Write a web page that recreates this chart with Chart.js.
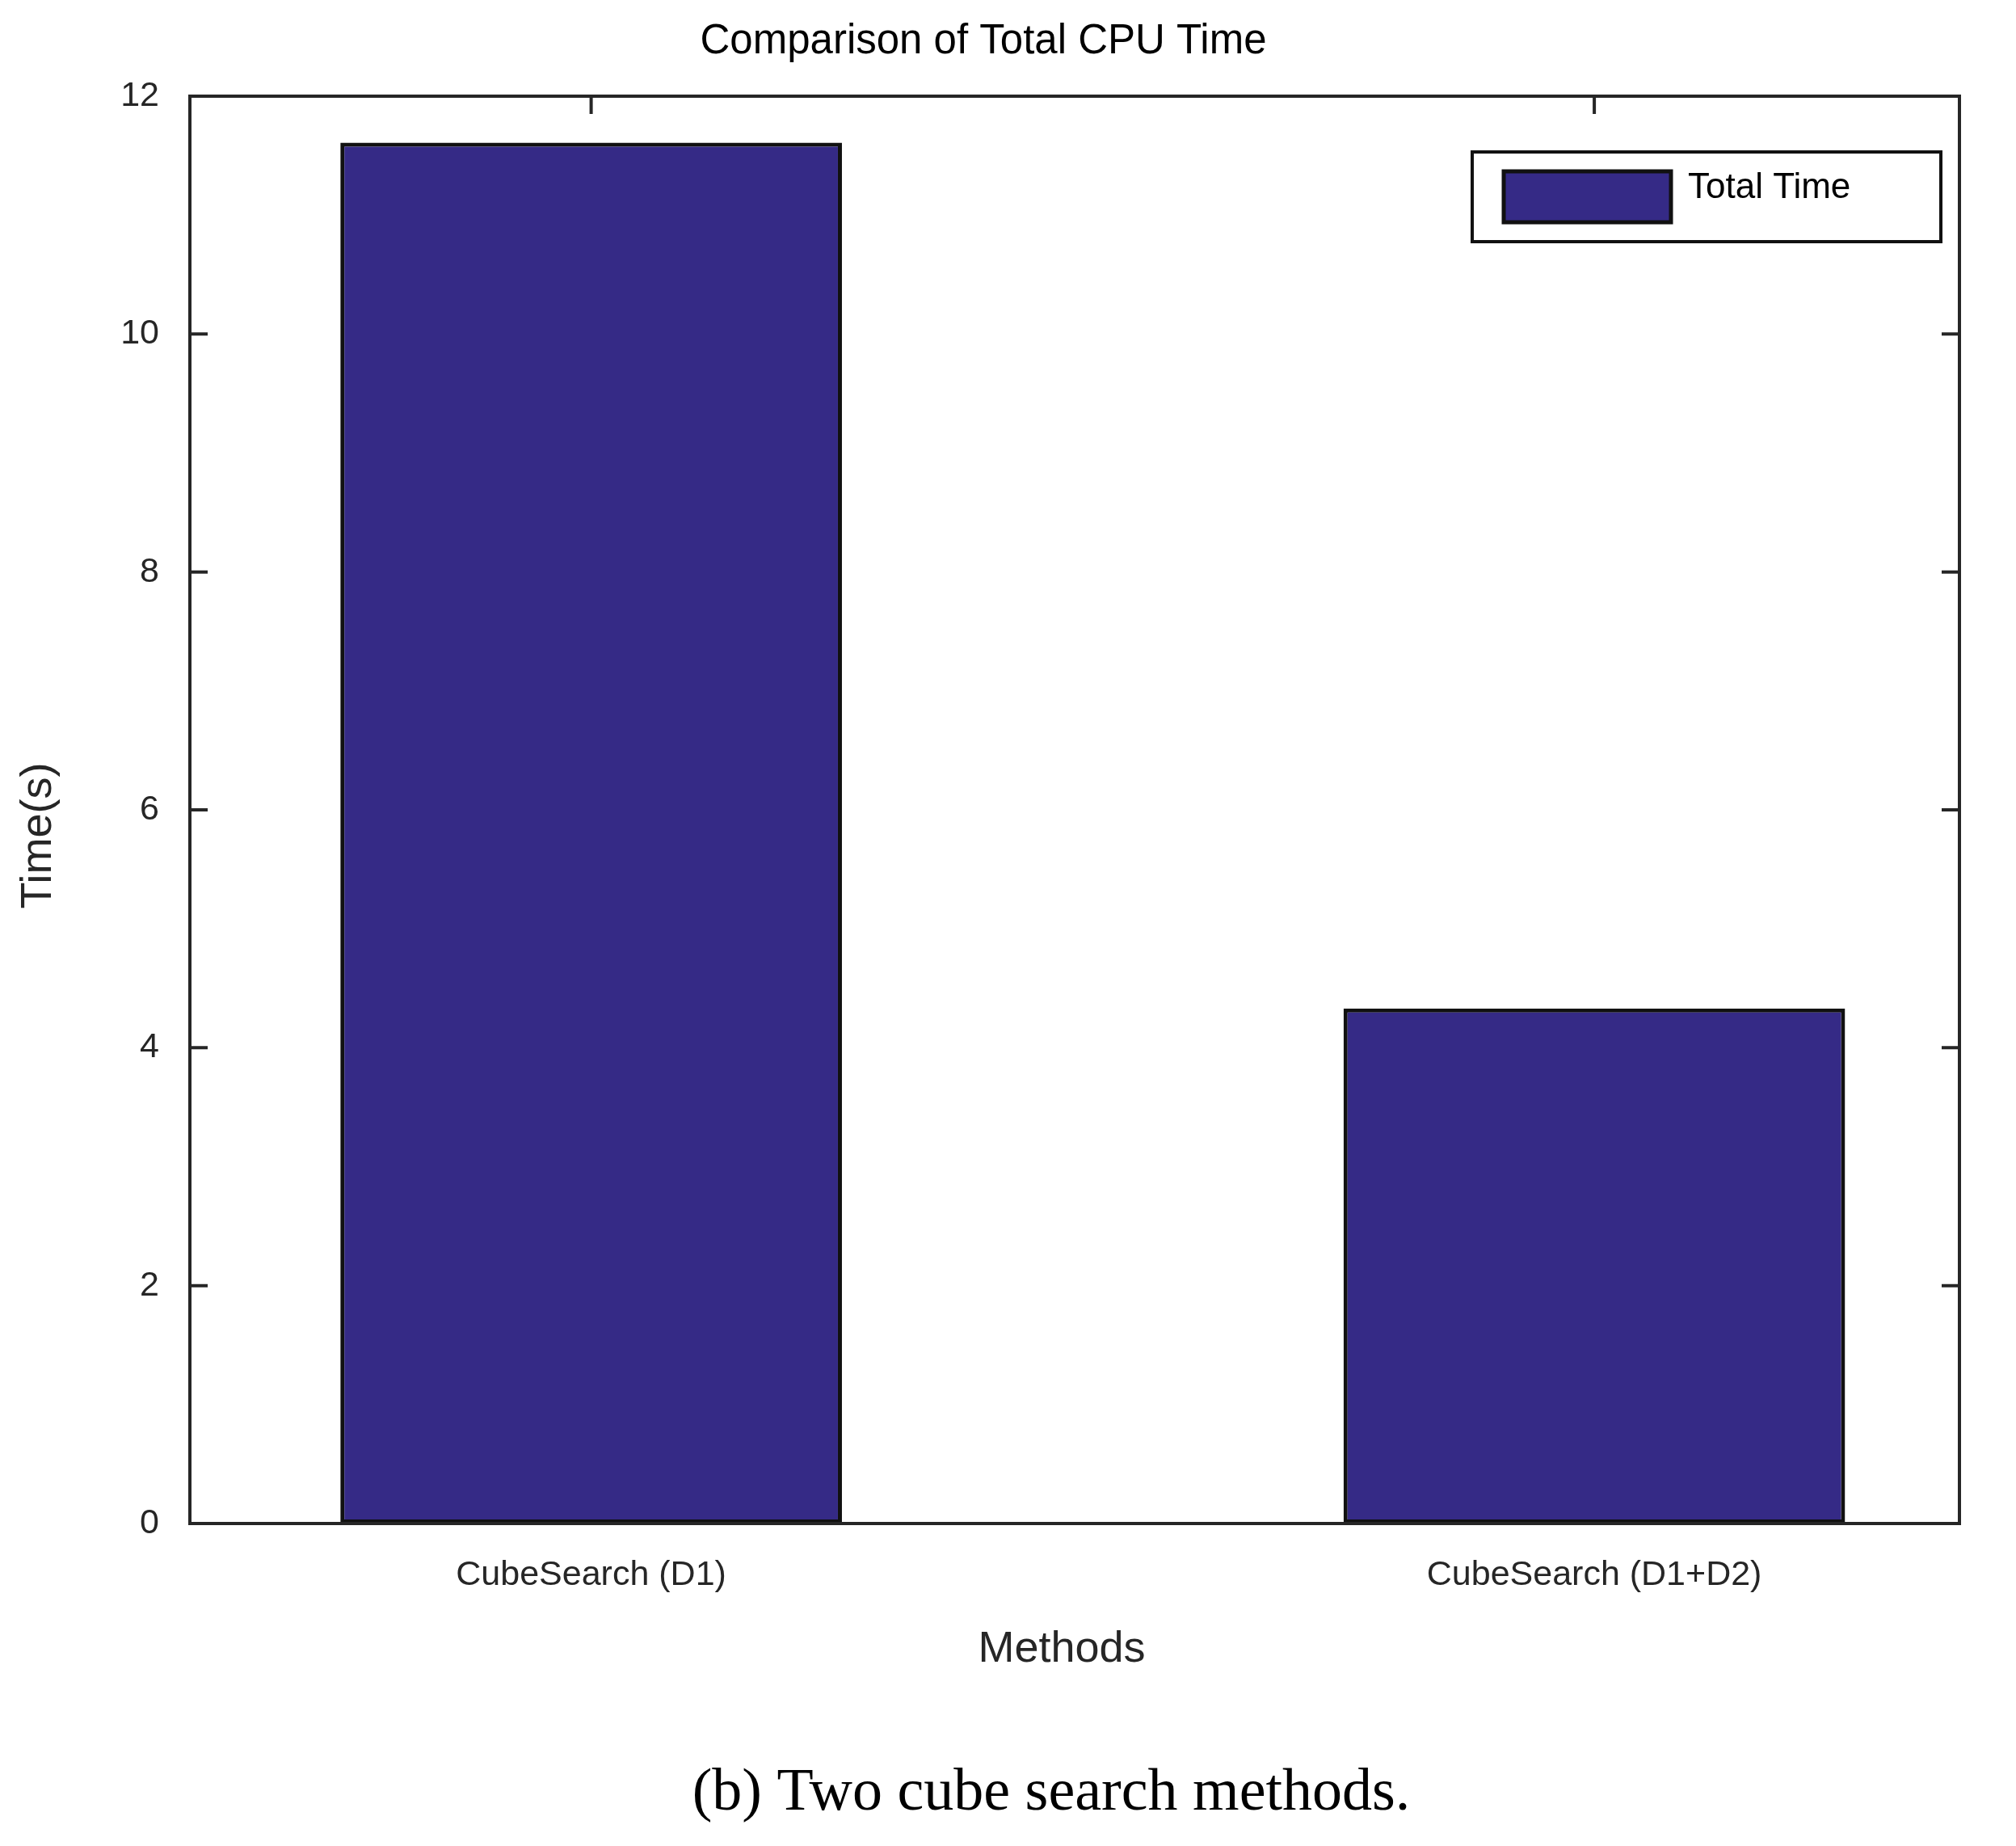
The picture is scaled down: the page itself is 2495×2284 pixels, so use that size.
<!DOCTYPE html>
<html>
<head>
<meta charset="utf-8">
<script src="https://cdn.jsdelivr.net/npm/chart.js@4"></script>
<style>
  html, body { margin: 0; padding: 0; background: #fff; }
  #wrap { width: 2495px; height: 2284px; }
</style>
</head>
<body>
<div id="wrap"><canvas id="myChart" width="2495" height="2284"></canvas></div>
<script>
// data
var methods = ["CubeSearch (D1)", "CubeSearch (D1+D2)"];
var positions = [1, 2];
var totalTime = [11.61, 4.33];
var yTicks = [0, 2, 4, 6, 8, 10, 12];

var frameColor = "#262626";

// frame, inward tick marks, titles, legend, caption
var decorations = {
  id: "decorations",
  afterDraw: function (chart) {
    var ctx = chart.ctx;
    var a = chart.chartArea;
    var xs = chart.scales.x, ys = chart.scales.y;
    var len = 22;
    ctx.save();
    ctx.strokeStyle = frameColor;
    ctx.lineWidth = 4;
    ctx.strokeRect(a.left, a.top, a.right - a.left, a.bottom - a.top);
    ctx.beginPath();
    yTicks.forEach(function (v) {
      var y = ys.getPixelForValue(v);
      ctx.moveTo(a.left, y); ctx.lineTo(a.left + len, y);
      ctx.moveTo(a.right, y); ctx.lineTo(a.right - len, y);
    });
    positions.forEach(function (v) {
      var x = xs.getPixelForValue(v);
      ctx.moveTo(x, a.top); ctx.lineTo(x, a.top + len);
    });
    ctx.stroke();

    ctx.fillStyle = "#000";
    ctx.textAlign = "center";
    ctx.textBaseline = "middle";
    ctx.font = "51px 'Liberation Sans', Arial, sans-serif";
    ctx.fillText("Comparison of Total CPU Time", 1217, 52);
    ctx.font = "54px 'Liberation Sans', Arial, sans-serif";
    ctx.fillStyle = "#262626";
    ctx.fillText("Methods", 1314, 2041);
    ctx.save();
    ctx.translate(48, 1034);
    ctx.rotate(-Math.PI / 2);
    ctx.fillText("Time(s)", 0, 0);
    ctx.restore();

    // legend
    ctx.fillStyle = "#fff";
    ctx.fillRect(1822, 188, 580, 111);
    ctx.lineWidth = 4;
    ctx.strokeStyle = "#111";
    ctx.strokeRect(1822, 188, 580, 111);
    ctx.fillStyle = "#352a86";
    ctx.fillRect(1861, 212, 207, 63);
    ctx.lineWidth = 5;
    ctx.strokeRect(1861, 212, 207, 63);
    ctx.fillStyle = "#000";
    ctx.textAlign = "left";
    ctx.font = "44px 'Liberation Sans', Arial, sans-serif";
    ctx.fillText("Total Time", 2089, 233);

    // caption
    ctx.textAlign = "center";
    ctx.font = "74px 'Liberation Serif', 'DejaVu Serif', serif";
    ctx.fillText("(b) Two cube search methods.", 1301, 2220);
    ctx.restore();
  }
};

var chart = new Chart("myChart", {
  type: "bar",
  data: {
    datasets: [{
      label: "Total Time",
      data: positions.map(function (p, i) { return { x: p, y: totalTime[i] }; }),
      backgroundColor: "#352a86",
      borderColor: "#111111",
      borderWidth: 5,
      borderSkipped: false,
      barPercentage: 0.5,
      categoryPercentage: 1
    }]
  },
  options: {
    responsive: false,
    animation: false,
    layout: { padding: { left: 135, top: 119, right: 70, bottom: 249 } },
    plugins: { legend: { display: false }, title: { display: false }, tooltip: { enabled: false } },
    scales: {
      x: {
        type: "linear",
        offset: false,
        min: 0.6,
        max: 2.364,
        grid: { display: false },
        border: { display: false },
        afterBuildTicks: function (s) { s.ticks = positions.map(function (p) { return { value: p }; }); },
        afterFit: function (s) { s.height = 150; },
        ticks: {
          padding: 30,
          color: "#262626",
          font: { family: "'Liberation Sans', Arial, sans-serif", size: 43 },
          callback: function (v) { return methods[positions.indexOf(v)]; }
        }
      },
      y: {
        min: 0,
        max: 12,
        grid: { display: false },
        border: { display: false },
        afterBuildTicks: function (s) { s.ticks = yTicks.map(function (v) { return { value: v }; }); },
        afterFit: function (s) { s.width = 100; },
        ticks: {
          padding: 30,
          color: "#262626",
          font: { family: "'Liberation Sans', Arial, sans-serif", size: 43 }
        }
      }
    }
  },
  plugins: [decorations]
});
</script>
</body>
</html>
